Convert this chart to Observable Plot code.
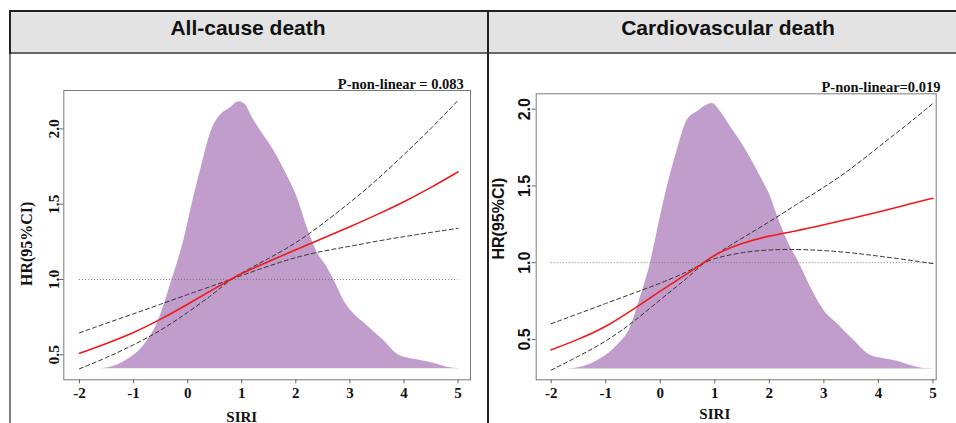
<!DOCTYPE html>
<html><head><meta charset="utf-8">
<script src="https://cdn.jsdelivr.net/npm/d3@7"></script>
<script src="https://cdn.jsdelivr.net/npm/@observablehq/plot@0.6"></script>
<style>
body{margin:0;background:#fff;width:956px;height:423px;overflow:hidden;position:relative}
.abs{position:absolute}
#hdr{left:9px;top:10px;width:960px;height:40px;background:#e3e3e3;border-top:2px solid #222;border-bottom:2px solid #666;z-index:2}
#lb1{left:9px;top:10px;width:2px;height:44px;background:#222;z-index:3}
#lb2{left:9px;top:54px;width:2px;height:369px;background:#808080;z-index:3}
#div{left:487px;top:10px;width:2px;height:413px;background:#222;z-index:3}
.title{top:16px;height:28px;line-height:28px;font:bold 21px "Liberation Sans",Arial,sans-serif;color:#111;text-align:center;z-index:4;white-space:nowrap}
#p1,#p2{top:0;z-index:1}
#p1{left:0}
#p2{left:488px}
</style></head>
<body>
<div id="hdr" class="abs"></div>
<div id="lb1" class="abs"></div>
<div id="lb2" class="abs"></div>
<div id="div" class="abs"></div>
<div class="abs title" id="t1" style="left:148px;width:200px">All-cause death</div>
<div class="abs title" id="t2" style="left:608px;width:240px">Cardiovascular death</div>
<div id="p1" class="abs"></div>
<div id="p2" class="abs"></div>
<script>
// ---------- data ----------
const titles = ["All-cause death", "Cardiovascular death"];
const pLabels = ["P-non-linear = 0.083", "P-non-linear=0.019"];
const xTicks = [-2, -1, 0, 1, 2, 3, 4, 5];
const yTicks = [0.5, 1.0, 1.5, 2.0];
const yTickLabels = ["0.5", "1.0", "1.5", "2.0"];
const xLabel = "SIRI";
const yLabel = "HR(95%CI)";
const refHR = 1;

// All-cause death
const acX     = [-2, -1.5, -1, -0.5, 0, 0.5, 0.79, 1, 1.5, 2, 2.5, 3, 3.5, 4, 4.5, 5];
const acHR    = [0.51, 0.575, 0.645, 0.735, 0.835, 0.94, 1.0, 1.042, 1.12, 1.198, 1.273, 1.35, 1.43, 1.515, 1.61, 1.715];
const acSteep = [0.407, 0.48, 0.565, 0.66, 0.78, 0.91, 1.0, 1.045, 1.14, 1.24, 1.37, 1.51, 1.66, 1.83, 2.0, 2.19];
const acFlat  = [0.646, 0.71, 0.772, 0.836, 0.90, 0.963, 1.0, 1.027, 1.09, 1.148, 1.19, 1.22, 1.255, 1.285, 1.313, 1.34];
const acDensBase = 0.407;
const acDensX = [-1.735,-1.427,-1.119,-0.811,-0.564,-0.287,-0.071,0.083,0.237,0.452,0.606,0.791,0.945,1.068,1.192,1.346,1.592,1.839,2.023,2.208,2.393,2.578,2.701,2.886,3.071,3.317,3.625,3.872,4.057,4.303,4.55,4.796,5.043];
const acDensY = [0.407,0.418,0.467,0.562,0.706,1.0,1.259,1.502,1.724,2.0,2.09,2.14,2.18,2.16,2.078,1.989,1.857,1.691,1.547,1.347,1.181,1.082,1.0,0.861,0.772,0.695,0.595,0.506,0.48,0.462,0.444,0.418,0.407];

// Cardiovascular death
const cvX     = [-2, -1.5, -1, -0.5, 0, 0.5, 0.8, 1, 1.5, 2, 2.5, 3, 3.5, 4, 4.5, 5];
const cvHR    = [0.432, 0.50, 0.58, 0.695, 0.815, 0.93, 1.0, 1.055, 1.13, 1.175, 1.207, 1.247, 1.287, 1.33, 1.375, 1.42];
const cvSteep = [0.30, 0.39, 0.485, 0.61, 0.76, 0.90, 1.0, 1.05, 1.16, 1.265, 1.38, 1.49, 1.61, 1.754, 1.89, 2.037];
const cvFlat  = [0.602, 0.668, 0.734, 0.80, 0.865, 0.94, 1.0, 1.03, 1.068, 1.085, 1.087, 1.08, 1.065, 1.043, 1.02, 0.994];
const cvDensBase = 0.308;
const cvDensX = [-1.707,-1.401,-1.095,-0.79,-0.545,-0.361,-0.178,-0.025,0.128,0.311,0.495,0.678,0.954,1.106,1.29,1.535,1.84,2.024,2.177,2.33,2.544,2.819,3.002,3.247,3.553,3.859,4.103,4.409,4.593,4.837,5.051];
const cvDensY = [0.308,0.324,0.374,0.461,0.58,0.776,1.0,1.254,1.493,1.733,1.928,1.983,2.037,1.983,1.885,1.754,1.559,1.428,1.276,1.145,1.0,0.798,0.689,0.602,0.493,0.395,0.374,0.352,0.33,0.311,0.308];

// ---------- drawing ----------
const SERIF = "'Liberation Serif','Times New Roman',serif";
const SANS = "'Liberation Sans',Arial,sans-serif";
const zip = (xs, ys) => xs.map((x, i) => ({x, y: ys[i]}));

function panel(o) {
  return Plot.plot({
    width: o.width, height: 423,
    marginLeft: o.ml, marginRight: o.mr, marginTop: o.mt, marginBottom: 43.7,
    style: {background: "transparent", overflow: "visible"},
    x: {domain: o.xDomain, label: null},
    y: {domain: o.yDomain, label: null},
    marks: [
      Plot.areaY(zip(o.dx, o.dy), {x: "x", y1: o.base, y2: "y", fill: "#c09dcb", curve: "monotone-x"}),
      Plot.ruleY([refHR], {x1: -2, x2: 5, stroke: "#7a7a7a", strokeWidth: 1, strokeDasharray: "1,2"}),
      Plot.line(zip(o.x, o.steep), {x: "x", y: "y", stroke: "#333", strokeWidth: 1, strokeDasharray: "4,3", curve: "basis"}),
      Plot.line(zip(o.x, o.flat), {x: "x", y: "y", stroke: "#333", strokeWidth: 1, strokeDasharray: "4,3", curve: "basis"}),
      Plot.line(zip(o.x, o.hr), {x: "x", y: "y", stroke: "#f01a1a", strokeWidth: 1.6, curve: "basis"}),
      Plot.frame({stroke: "#7a7a7a", strokeWidth: 1}),
      Plot.axisX({ticks: xTicks, tickSize: 4, tickPadding: 4, tickFormat: d => String(d), label: null,
        fontSize: 15, fontWeight: "bold", fontFamily: SERIF, stroke: "#666", fill: "#111"}),
      Plot.axisY({ticks: yTicks, tickSize: 4, tickFormat: () => "", label: null, stroke: "#666"}),
      Plot.text(yTicks, {y: d => d, text: (d, i) => yTickLabels[i], frameAnchor: "left", dx: o.ytdx, rotate: -90,
        textAnchor: "middle", lineAnchor: "middle", fontSize: o.ytSize, fontWeight: "bold", fontFamily: o.ytFont, fill: "#111"}),
      Plot.text([yLabel], {y: o.ylabY, frameAnchor: "left", dx: o.yldx, rotate: -90, textAnchor: "middle",
        lineAnchor: "middle", fontSize: 16, fontWeight: "bold", fontFamily: o.ytFont, fill: "#111"}),
      Plot.text([xLabel], {x: 1, frameAnchor: "bottom", dy: o.xldy, textAnchor: "middle", lineAnchor: "middle",
        fontSize: 15, fontWeight: "bold", fontFamily: SERIF, fill: "#111"}),
      Plot.text([o.p], {frameAnchor: "top-right", dx: o.pdx, dy: -2, textAnchor: "end", lineAnchor: "bottom",
        fontSize: 14.5, fontWeight: "bold", fontFamily: SERIF, fill: "#111"})
    ]
  });
}

document.getElementById("p1").append(panel({
  width: 488, ml: 63.3, mr: 18, mt: 90,
  xDomain: [-2.29, 5.23], yDomain: [0.334, 2.255],
  x: acX, hr: acHR, steep: acSteep, flat: acFlat,
  dx: acDensX, dy: acDensY, base: acDensBase,
  ytdx: -10, ytSize: 15.5, ytFont: SERIF, yldx: -36.6, ylabY: 1.237, xldy: 37.2,
  p: pLabels[0], pdx: -6.7
}));
document.getElementById("p2").append(panel({
  width: 468, ml: 47.7, mr: 20.3, mt: 93.3,
  xDomain: [-2.275, 5.06], yDomain: [0.237, 2.10],
  x: cvX, hr: cvHR, steep: cvSteep, flat: cvFlat,
  dx: cvDensX, dy: cvDensY, base: cvDensBase,
  ytdx: -11.5, ytSize: 16, ytFont: SANS, yldx: -37.4, ylabY: 1.287, xldy: 34.7,
  p: pLabels[1], pdx: 4.3
}));
</script>
</body></html>
